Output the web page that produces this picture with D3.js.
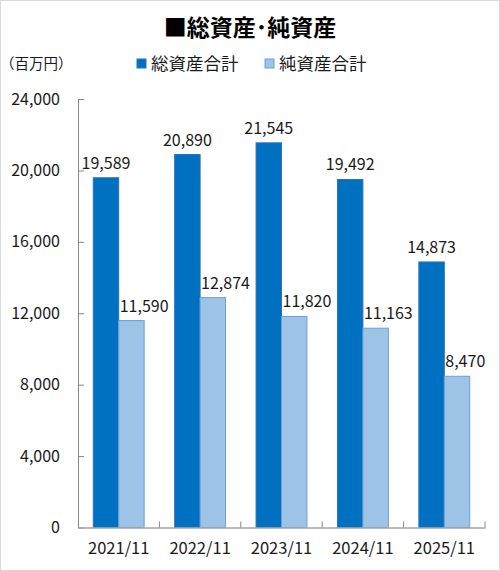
<!doctype html>
<html lang="ja">
  <head>
    <meta charset="utf-8">
    <title>総資産・純資産</title>
    <script src="https://d3js.org/d3.v7.min.js"></script>
    <style>
      body { margin: 0; background: #fff; }
      text { font-family: "Noto Sans CJK JP", "Noto Sans", sans-serif; fill: #1a1a1a; }
    </style>
  </head>
  <body>
    <div id="container"></div>
  </body>
  <script>
    // chart data
    const years = ["2021/11", "2022/11", "2023/11", "2024/11", "2025/11"]
    const totalAssets = [19589, 20890, 21545, 19492, 14873]
    const netAssets = [11590, 12874, 11820, 11163, 8470]
    const seriesNames = ["総資産合計", "純資産合計"]
    const yTicks = [0, 4000, 8000, 12000, 16000, 20000, 24000]

    const width = 500
    const height = 571
    const plot = {left: 78, right: 485, top: 99, bottom: 527.5}
    const colors = ["#0070C0", "#9DC3E6"]
    const strokes = ["#2F6FC0", "#6A9FD8"]

    const svg = d3.select("#container")
      .append("svg")
        .attr("width", width)
        .attr("height", height)

    // outer frame
    svg.append("rect")
      .attr("x", 0.5).attr("y", 0.5)
      .attr("width", width - 1).attr("height", height - 1)
      .attr("fill", "#fff")
      .attr("stroke", "#d9d9d9")

    const x = d3.scaleBand()
      .domain(years)
      .range([plot.left, plot.right])
      .paddingInner(0)
      .paddingOuter(0)

    const inner = d3.scaleBand()
      .domain([0, 1])
      .range([0, x.bandwidth()])
      .paddingInner(0)
      .paddingOuter(0.6)

    const y = d3.scaleLinear()
      .domain([0, 24000])
      .range([plot.bottom, plot.top])

    // title
    svg.append("text")
      .attr("x", 250).attr("y", 36)
      .attr("text-anchor", "middle")
      .attr("font-size", 23)
      .attr("font-weight", "bold")
      .style("fill", "#000")
      .text("■総資産･純資産")

    svg.append("text")
      .attr("x", 0).attr("y", 69)
      .attr("font-size", 14.5)
      .text("（百万円）")

    // legend
    const legendX = [137, 265]
    seriesNames.forEach((name, i) => {
      svg.append("rect")
        .attr("x", legendX[i]).attr("y", 59)
        .attr("width", 9).attr("height", 9)
        .attr("fill", colors[i])
        .attr("stroke", strokes[i])
      svg.append("text")
        .attr("x", legendX[i] + 14).attr("y", 70)
        .attr("font-size", 17.5)
        .text(name)
    })

    // y axis
    const yAxis = svg.append("g")
      .attr("transform", `translate(${plot.left},0)`)
      .call(d3.axisLeft(y).tickValues(yTicks).tickSize(-6).tickSizeOuter(0)
        .tickPadding(18).tickFormat(d3.format(",")))
    yAxis.select(".domain").attr("stroke", "#868686")
    yAxis.selectAll(".tick line").attr("stroke", "#868686")
    yAxis.selectAll(".tick text").attr("font-size", 16).attr("font-family", null).attr("fill", null)

    // bars
    const seriesData = [totalAssets, netAssets]
    seriesData.forEach((vals, s) => {
      const g = svg.append("g")
      g.selectAll("rect")
        .data(vals)
        .join("rect")
          .attr("x", (d, i) => x(years[i]) + inner(s))
          .attr("y", d => y(d))
          .attr("width", inner.bandwidth())
          .attr("height", d => y(0) - y(d))
          .attr("fill", colors[s])
          .attr("stroke", strokes[s])
          .attr("stroke-width", 1)
      // dark labels centred on the bar, light labels start at the bar's left edge
      g.selectAll("text")
        .data(vals)
        .join("text")
          .attr("x", (d, i) => s === 0
            ? x(years[i]) + inner(s) + inner.bandwidth() / 2
            : x(years[i]) + inner(s) + 1)
          .attr("y", d => y(d) - 9)
          .attr("text-anchor", s === 0 ? "middle" : "start")
          .attr("font-size", 16)
          .text(d => d3.format(",")(d))
    })

    // x axis
    const xAxis = svg.append("g")
      .attr("transform", `translate(0,${plot.bottom})`)
      .call(d3.axisBottom(x).tickSize(0).tickSizeOuter(0).tickPadding(15))
    xAxis.select(".domain").attr("stroke", "#a6a6a6").attr("stroke-width", 1.5)
    xAxis.selectAll(".tick text").attr("font-size", 16.5).attr("font-family", null).attr("fill", null)

    // category boundary ticks pointing up
    svg.append("g")
      .selectAll("line")
      .data(years)
      .join("line")
        .attr("x1", d => x(d) + x.bandwidth())
        .attr("x2", d => x(d) + x.bandwidth())
        .attr("y1", plot.bottom)
        .attr("y2", plot.bottom - 6)
        .attr("stroke", "#868686")
  </script>
</html>
